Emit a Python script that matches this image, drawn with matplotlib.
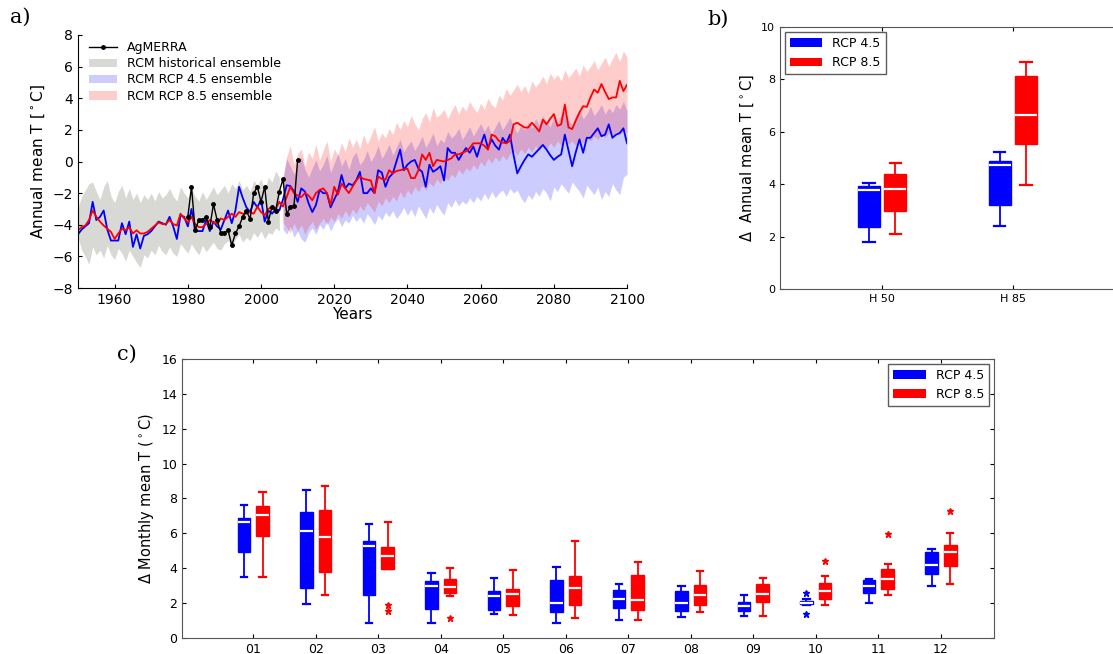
import numpy as np
import matplotlib
matplotlib.use("Agg")
import matplotlib.pyplot as plt
from matplotlib.patches import Patch
from matplotlib.lines import Line2D

# ---- panel a: annual mean temperature series ----
years = np.arange(1950, 2101)
hist_years = np.arange(1950, 2006)
fut_years = np.arange(2006, 2101)
obs_years = np.arange(1980, 2011)

rcp45_line = [
    -4.6, -4.3, -4.1, -3.9, -2.55, -3.7, -3.5, -3.1, -4.3, -5.0,
    -5.0, -5.0, -3.9, -4.6, -3.8, -5.4, -4.6, -5.5, -4.7, -4.6,
    -4.4, -4.1, -3.8, -3.9, -4.0, -3.5, -4.1, -4.9, -3.4, -3.5,
    -4.1, -3.0, -4.4, -4.4, -4.4, -3.7, -4.4, -3.8, -4.1, -4.3,
    -3.7, -3.1, -3.9, -3.1, -1.6, -2.3, -2.9, -3.2, -2.55, -2.9,
    -2.4, -3.8, -3.1, -3.3, -3.0, -3.1, -2.4, -1.5, -1.55, -1.9,
    -2.55, -1.7, -1.9, -2.65, -3.2, -2.75, -1.8, -2.0, -2.0, -2.9,
    -2.4, -1.9, -0.85, -1.7, -1.4, -1.5, -1.2, -0.65, -2.0, -2.0,
    -1.7, -2.0, -0.55, -0.7, -1.6, -1.0, -0.75, 0.0, 0.75, -0.55,
    -0.2, 0.0, 0.1, -0.45, -0.65, -1.6, -0.2, -0.65, -0.5, -0.3,
    -1.2, 0.85, 0.55, 0.55, 0.1, 0.5, 0.85, 0.55, 0.95, 0.3,
    1.05, 1.7, 0.85, 1.4, 1.0, 0.75, 1.5, 1.15, 1.7, 0.4,
    -0.75, -0.3, 0.1, 0.45, 0.3, 0.55, 0.8, 1.05, 0.75, 0.4,
    0.1, 0.3, 0.45, 1.7, 0.7, -0.3, 0.6, 1.4, 0.55, 1.5,
    1.5, 1.8, 2.1, 1.6, 1.7, 2.35, 1.5, 1.7, 1.8, 2.1,
    1.15]

rcp85_line = [
    -4.35, -4.15, -4.05, -3.7, -3.1, -3.5, -3.8, -4.05, -4.25, -4.45,
    -4.9, -4.55, -4.25, -4.35, -4.15, -4.55, -4.35, -4.55, -4.55, -4.45,
    -4.25, -4.05, -3.85, -3.95, -3.95, -3.7, -3.95, -4.05, -3.3, -3.6,
    -3.85, -3.5, -3.95, -4.15, -4.15, -3.95, -3.7, -3.85, -3.95, -3.6,
    -3.7, -3.5, -3.3, -3.5, -3.2, -3.3, -3.3, -3.2, -3.3, -2.85,
    -3.2, -3.4, -3.0, -2.85, -3.0, -2.55, -2.85, -2.25, -1.6, -2.0,
    -2.15, -2.25, -2.0, -2.15, -2.45, -2.0, -1.8, -1.7, -2.0, -2.75,
    -1.6, -2.1, -1.4, -1.7, -2.0, -1.6, -1.2, -0.95, -1.1, -1.15,
    -1.2, -2.0, -0.95, -1.1, -1.15, -0.55, -0.75, -0.6, -0.55, -0.5,
    -0.45, -1.05, -1.05, -0.55, 0.45, 0.1, 0.55, -0.3, 0.1, 0.05,
    0.0, 0.1, 0.2, 0.45, 0.45, 0.55, 0.65, 0.85, 1.15, 1.15,
    1.15, 1.0, 0.75, 1.7, 1.6, 1.3, 1.2, 1.15, 1.3, 2.35,
    2.45, 2.3, 2.15, 2.15, 2.45, 2.2, 1.9, 2.65, 2.35, 2.7,
    3.0, 2.25, 2.35, 3.6, 2.15, 2.05, 2.6, 3.1, 3.5, 3.45,
    4.05, 4.55, 4.35, 4.9, 4.4, 3.95, 4.05, 4.05, 5.1, 4.45,
    4.85]

agmerra = [
    -3.5, -1.6, -4.35, -3.7, -3.7, -3.5, -4.15, -2.7, -3.7, -4.5,
    -4.5, -4.35, -5.3, -4.55, -4.1, -3.5, -3.1, -3.65, -2.0, -1.6,
    -2.55, -1.6, -3.8, -2.85, -3.1, -1.9, -1.1, -3.3, -2.9, -2.8,
    0.1]

hist_upper = [
    -2.9, -2.2, -1.8, -1.4, -1.3, -1.9, -2.4, -1.6, -1.2, -2.2,
    -2.6, -1.9, -1.5, -2.3, -1.7, -2.4, -2.0, -2.6, -2.1, -2.4,
    -2.0, -2.5, -1.9, -2.3, -2.1, -1.7, -2.2, -2.5, -1.6, -2.0,
    -2.3, -1.7, -2.2, -2.5, -1.9, -2.4, -2.0, -1.6, -2.1, -1.8,
    -1.5, -2.0, -1.4, -1.7, -1.2, -1.8, -1.5, -1.9, -1.2, -1.5,
    -1.1, -1.8, -1.0, -1.3, -0.6, -1.0]
hist_lower = [
    -4.8, -5.6, -6.0, -6.5, -5.4, -5.9, -5.6, -6.1, -5.3, -5.9,
    -6.2, -5.5, -5.8, -6.3, -5.6, -6.0, -6.4, -6.7, -5.9, -6.1,
    -5.6, -5.9, -5.3, -5.7, -5.9, -5.4, -5.8, -6.0, -5.2, -5.5,
    -5.8, -5.2, -5.6, -5.9, -5.3, -5.7, -5.4, -5.1, -5.5, -5.6,
    -5.2, -5.0, -5.4, -4.9, -4.6, -5.1, -4.8, -5.0, -4.5, -4.8,
    -4.4, -4.9, -4.5, -4.6, -4.2, -4.4]

rcp45_upper = [
    -1.0, 0.2, -0.3, -0.8, -0.2, 0.3, -0.5, -1.0, -0.4, 0.1,
    -0.6, -0.2, 0.4, -0.7, -0.1, 0.5, -0.3, 0.2, -0.5, 0.3,
    0.6, -0.2, 0.1, 0.7, 0.0, 0.4, 1.0, 0.2, 0.6, 1.1,
    0.4, 0.9, 1.4, 0.6, 1.0, 1.3, 0.7, 1.1, 1.6, 0.9,
    1.3, 1.8, 1.0, 1.4, 1.2, 1.9, 1.5, 1.7, 2.1, 1.4,
    1.8, 2.2, 1.6, 2.0, 2.4, 1.9, 2.3, 1.7, 2.2, 2.6,
    2.0, 2.4, 2.8, 2.2, 1.8, 2.3, 2.0, 2.5, 2.1, 2.7,
    2.3, 2.9, 2.5, 2.2, 2.8, 2.4, 3.0, 3.2, 2.6, 2.3,
    2.9, 3.3, 2.7, 3.0, 3.5, 2.9, 3.2, 3.6, 3.0, 3.4,
    3.1, 3.6, 3.3, 3.8, 3.2]
rcp45_lower = [
    -4.3, -4.6, -4.1, -4.8, -4.4, -4.9, -5.1, -4.5, -4.2, -4.6,
    -4.0, -4.3, -3.8, -4.4, -3.9, -3.6, -4.1, -3.7, -3.9, -3.4,
    -3.8, -3.5, -3.9, -3.3, -3.6, -4.0, -3.4, -3.7, -3.2, -3.5,
    -3.1, -3.6, -3.3, -2.9, -3.4, -3.0, -3.5, -2.8, -3.2, -3.6,
    -2.9, -3.3, -2.7, -3.1, -3.4, -2.6, -2.9, -2.4, -2.8, -2.5,
    -2.7, -2.3, -2.6, -2.2, -2.5, -2.0, -2.4, -1.9, -2.3, -2.0,
    -1.8, -2.2, -1.7, -2.0, -1.8, -2.3, -2.6, -2.1, -2.4, -1.9,
    -2.2, -1.7, -2.0, -2.5, -1.6, -1.9, -1.4, -1.7, -2.0, -1.3,
    -1.6, -1.9, -2.3, -1.5, -1.8, -2.1, -1.6, -2.4, -1.9, -2.2,
    -1.4, -1.8, -2.1, -1.0, -0.8]

rcp85_upper = [
    -1.2, 0.3, 1.0, -0.2, 0.5, 0.8, -0.3, 0.6, 0.2, 1.1,
    0.1, 0.7, 1.3, 0.0, 0.8, 0.4, 1.2, 0.6, 1.5, 0.9,
    1.4, 0.8, 1.7, 1.1, 1.6, 2.2, 1.3, 1.8, 1.5, 2.1,
    1.7, 2.5, 2.0, 2.6, 2.2, 2.9, 2.4, 2.0, 2.7, 3.1,
    2.5, 3.4, 2.8, 3.0, 3.3, 2.7, 3.2, 3.6, 3.0, 3.5,
    3.2, 3.8, 3.4, 3.1, 3.7, 3.3, 4.0, 3.6, 3.4, 4.2,
    3.9, 4.6, 4.2, 4.5, 4.9, 4.4, 4.8, 4.3, 5.1, 4.7,
    5.0, 5.4, 4.9, 5.6, 5.2, 5.5, 5.1, 5.8, 5.3, 5.6,
    5.9, 5.4, 6.1, 5.7, 6.0, 6.4, 5.8, 6.2, 6.6, 6.0,
    6.5, 6.9, 6.3, 7.0, 6.6]
rcp85_lower = [
    -3.8, -4.2, -4.5, -3.9, -4.4, -4.0, -4.6, -4.1, -3.8, -4.3,
    -3.9, -3.6, -4.0, -3.5, -3.8, -3.3, -3.6, -3.1, -3.5, -3.0,
    -3.3, -2.8, -3.1, -2.6, -2.9, -3.2, -2.5, -2.8, -2.3, -2.6,
    -2.2, -2.5, -1.9, -2.3, -1.8, -2.1, -1.6, -1.9, -1.5, -1.8,
    -1.3, -1.6, -1.1, -1.4, -0.9, -1.2, -0.8, -1.0, -0.5, -0.8,
    -0.4, -0.6, -0.2, -0.5, 0.0, -0.3, 0.2, -0.1, 0.3, 0.0,
    0.4, 0.1, 0.5, 0.7, 0.4, 0.8, 0.5, 0.9, 0.6, 1.0,
    0.7, 1.1, 0.8, 1.2, 0.9, 1.3, 1.0, 1.4, 1.1, 1.3,
    1.0, 1.4, 1.2, 1.5, 1.3, 1.6, 1.4, 1.7, 1.5, 1.8,
    1.6, 1.9, 1.7, 2.0, 1.8]

# ---- panel b: annual change per horizon (whislo, q1, med, q3, whishi) ----
horizons = ["H 50", "H 85"]
b_rcp45 = [[1.78, 2.35, 3.76, 3.93, 4.04], [2.39, 3.2, 4.73, 4.9, 5.24]]
b_rcp85 = [[2.09, 2.96, 3.81, 4.39, 4.82], [3.97, 5.53, 6.66, 8.12, 8.65]]

# ---- panel c: monthly change (whislo, q1, med, q3, whishi) + outliers ----
months = ["01", "02", "03", "04", "05", "06", "07", "08", "09", "10", "11", "12"]
c_rcp45 = [
    [3.48, 4.95, 6.63, 6.88, 7.63],
    [1.95, 2.85, 6.16, 7.21, 8.49],
    [0.86, 2.47, 5.26, 5.56, 6.56],
    [0.86, 1.66, 3.0, 3.27, 3.73],
    [1.4, 1.59, 2.39, 2.68, 3.44],
    [0.86, 1.49, 2.0, 3.35, 4.09],
    [1.05, 1.7, 2.24, 2.77, 3.1],
    [1.2, 1.53, 2.0, 2.7, 2.96],
    [1.28, 1.53, 1.85, 2.05, 2.45],
    [1.9, 1.93, 2.0, 2.1, 2.25],
    [2.0, 2.58, 3.0, 3.31, 3.38],
    [2.96, 3.67, 4.21, 4.93, 5.12]]
c_rcp45_out = [[], [], [], [], [], [], [], [], [], [2.56, 1.38], [], []]
c_rcp85 = [
    [3.48, 5.87, 7.07, 7.59, 8.37],
    [2.47, 3.8, 5.77, 7.34, 8.74],
    [3.96, 3.96, 4.68, 5.22, 6.67],
    [2.39, 2.56, 2.9, 3.4, 4.0],
    [1.34, 1.82, 2.54, 2.79, 3.9],
    [1.15, 1.87, 2.85, 3.54, 5.54],
    [1.05, 1.59, 2.16, 3.61, 4.34],
    [1.47, 1.91, 2.49, 3.02, 3.86],
    [1.28, 2.05, 2.54, 3.08, 3.44],
    [1.89, 2.22, 2.71, 3.13, 3.57],
    [2.45, 2.81, 3.38, 3.96, 4.24],
    [3.1, 4.15, 4.95, 5.32, 6.02]]
c_rcp85_out = [[], [], [1.87, 1.57], [1.15], [], [], [], [], [], [4.41], [5.97], [7.3]]

BLUE = "#0000ff"
RED = "#ff0000"
GREY = "#808075"


def stats(rows, outliers=None):
    out = []
    for i, r in enumerate(rows):
        out.append({"whislo": r[0], "q1": r[1], "med": r[2], "q3": r[3], "whishi": r[4],
                    "fliers": outliers[i] if outliers else []})
    return out


def draw_boxes(ax, rows, pos, color, width, outliers=None):
    ax.bxp(stats(rows, outliers), positions=pos, widths=width, patch_artist=True,
           manage_ticks=False,
           boxprops=dict(facecolor=color, edgecolor=color, linewidth=1),
           medianprops=dict(color="white", linewidth=1.6),
           whiskerprops=dict(color=color, linewidth=1.3),
           capprops=dict(color=color, linewidth=1.6),
           flierprops=dict(marker="*", markersize=5, markerfacecolor=color,
                           markeredgecolor=color, linestyle="none"))


fig = plt.figure(figsize=(11.13, 6.54), dpi=100)

# panel a
ax1 = fig.add_axes([0.0701, 0.5596, 0.4933, 0.3869])
ax1.fill_between(hist_years, hist_lower, hist_upper, color=GREY, alpha=0.3, linewidth=0)
ax1.fill_between(fut_years, rcp45_lower, rcp45_upper, color="blue", alpha=0.2, linewidth=0)
ax1.fill_between(fut_years, rcp85_lower, rcp85_upper, color="red", alpha=0.2, linewidth=0)
ax1.plot(years, rcp45_line, color=BLUE, lw=1.3)
ax1.plot(years, rcp85_line, color=RED, lw=1.3)
ax1.plot(obs_years, agmerra, color="black", lw=1, marker="o", markersize=2.5)
ax1.set_xlim(1950, 2100)
ax1.set_ylim(-8, 8)
ax1.set_xticks(range(1960, 2101, 20))
ax1.set_yticks(range(-8, 9, 2))
ax1.spines["top"].set_visible(False)
ax1.spines["right"].set_visible(False)
ax1.tick_params(direction="in", labelsize=10, length=3)
ax1.set_xlabel("Years", fontsize=11, labelpad=0)
ax1.set_ylabel(r"Annual mean T [$^\circ$C]", fontsize=11)
leg_a = [Line2D([], [], color="black", lw=1, marker="o", markersize=2.5),
         Patch(facecolor=GREY, alpha=0.3),
         Patch(facecolor="blue", alpha=0.2),
         Patch(facecolor="red", alpha=0.2)]
ax1.legend(leg_a, ["AgMERRA", "RCM historical ensemble", "RCM RCP 4.5 ensemble",
                   "RCM RCP 8.5 ensemble"],
           loc="upper left", bbox_to_anchor=(0.0, 1.02), frameon=False, fontsize=9,
           handlelength=2.2, labelspacing=0.25)
fig.text(0.009, 0.965, "a)", fontsize=15, family="serif")

# panel b
ax2 = fig.add_axes([0.7008, 0.5581, 0.301, 0.4006])
hpos = np.arange(1, len(horizons) + 1)
draw_boxes(ax2, b_rcp45, hpos - 0.1, BLUE, 0.17)
draw_boxes(ax2, b_rcp85, hpos + 0.1, RED, 0.17)
ax2.set_xlim(0.22, 2.78)
ax2.set_ylim(0, 10)
ax2.set_xticks(hpos)
ax2.set_xticklabels(horizons)
ax2.tick_params(direction="in", labelsize=8, top=True, right=False, length=3)
for s in ax2.spines.values():
    s.set_color("#555555")
ax2.set_ylabel(r"$\Delta$  Annual mean T [$^\circ$C]", fontsize=10.5)
ax2.legend([Patch(facecolor=BLUE), Patch(facecolor=RED)], ["RCP 4.5", "RCP 8.5"],
           loc="upper left", fontsize=9, fancybox=False, edgecolor="#333333",
           handlelength=2.6, borderaxespad=0.4)
fig.text(0.636, 0.962, "b)", fontsize=15, family="serif")

# panel c
ax3 = fig.add_axes([0.1635, 0.0245, 0.7296, 0.4266])
mpos = np.arange(1, len(months) + 1)
draw_boxes(ax3, c_rcp45, mpos - 0.15, BLUE, 0.2, c_rcp45_out)
draw_boxes(ax3, c_rcp85, mpos + 0.15, RED, 0.2, c_rcp85_out)
ax3.set_xlim(-0.14, 12.85)
ax3.set_ylim(0, 16)
ax3.set_xticks(mpos)
ax3.set_xticklabels(months)
ax3.set_yticks(range(0, 17, 2))
ax3.tick_params(direction="in", labelsize=9, top=True, right=True, length=3)
for s in ax3.spines.values():
    s.set_color("#555555")
ax3.set_ylabel(r"$\Delta$ Monthly mean T ($^\circ$C)", fontsize=10.5)
ax3.legend([Patch(facecolor=BLUE), Patch(facecolor=RED)], ["RCP 4.5", "RCP 8.5"],
           loc="upper right", fontsize=9, fancybox=False, edgecolor="#333333",
           handlelength=2.6, borderaxespad=0.4)
fig.text(0.105, 0.45, "c)", fontsize=15, family="serif")

fig.savefig("out.png", dpi=100)
